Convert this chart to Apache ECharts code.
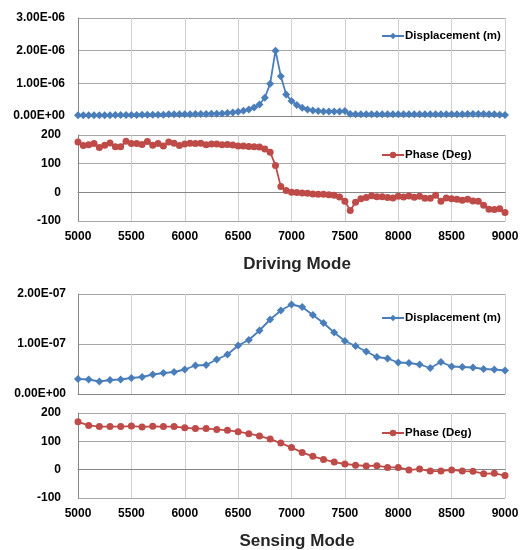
<!DOCTYPE html>
<html>
<head>
<meta charset="utf-8">
<script src="https://cdn.jsdelivr.net/npm/echarts@6/dist/echarts.min.js"></script>
<style>
  html, body { margin: 0; padding: 0; background: #fff; }
  #main { width: 530px; height: 550px; }
</style>
</head>
<body>
<div id="main"></div>
<script>
// driving mode: 5000..9000 Hz, every 50 Hz
var drivingStart = 5000, drivingStep = 50;
var drivingDisp = [ // units of 1e-6 m
  0.02,0.02,0.02,0.02,0.02,0.02,0.02,0.03,0.03,0.03,
  0.03,0.03,0.04,0.04,0.04,0.04,0.04,0.05,0.05,0.05,
  0.05,0.05,0.06,0.06,0.06,0.07,0.07,0.08,0.09,0.11,
  0.13,0.16,0.20,0.26,0.35,0.56,0.99,2.00,1.22,0.66,
  0.46,0.34,0.25,0.20,0.17,0.15,0.14,0.14,0.14,0.14,
  0.15,0.06,0.05,0.05,0.05,0.05,0.05,0.05,0.05,0.05,
  0.05,0.05,0.05,0.05,0.05,0.05,0.05,0.05,0.05,0.05,
  0.05,0.05,0.05,0.06,0.06,0.06,0.06,0.05,0.05,0.04,
  0.03
];
var drivingPhase = [
  176,163,166,170,156,164,172,159,159,178,
  170,170,167,177,164,170,162,176,171,163,
  169,171,170,171,166,169,169,166,167,165,
  162,162,160,159,158,151,140,94,20,6,
  0,-1,-2,-3,-6,-7,-7,-8,-10,-16,
  -31,-63,-35,-22,-18,-12,-15,-15,-18,-20,
  -14,-16,-13,-17,-14,-21,-21,-10,-31,-20,
  -22,-24,-28,-24,-30,-31,-45,-59,-60,-57,
  -70
];

// sensing mode: 5000..9000 Hz, every 100 Hz
var sensingStart = 5000, sensingStep = 100;
var sensingDisp = [ // units of 1e-7 m
  0.30,0.29,0.25,0.28,0.29,0.32,0.34,0.39,0.42,0.44,
  0.49,0.57,0.58,0.69,0.79,0.97,1.08,1.27,1.49,1.67,
  1.79,1.74,1.58,1.42,1.23,1.06,0.96,0.85,0.74,0.71,
  0.63,0.62,0.59,0.52,0.64,0.55,0.54,0.53,0.50,0.49,
  0.47
];
var sensingPhase = [
  169,156,152,152,152,154,151,153,152,152,
  148,145,145,142,139,134,127,119,108,94,
  78,61,47,36,27,20,16,13,14,8,
  8,-1,2,-5,-5,-1,-5,-6,-14,-13,
  -21
];

var xTicks = [5000, 9000, 500];
var dispName = 'Displacement (m)';
var phaseName = 'Phase (Deg)';

function pairs(start, step, vals, scale) {
  var out = [];
  for (var i = 0; i < vals.length; i++) {
    out.push([start + i * step, vals[i] * scale]);
  }
  return out;
}

function sci(v) {
  if (v === 0) return '0.00E+00';
  var s = v.toExponential(2).toUpperCase();
  var p = s.split('E');
  var e = parseInt(p[1], 10);
  var sign = e < 0 ? '-' : '+';
  e = Math.abs(e);
  return p[0] + 'E' + sign + (e < 10 ? '0' + e : e);
}

var font = 'Liberation Sans';
var labelStyle = { color: '#000', fontWeight: 'bold', fontSize: 12, fontFamily: font };
var blue = '#4a7ebb', red = '#be4b48';

var grids = [
  { left: 78, right: 25, top: 18, height: 98 },
  { left: 78, right: 25, top: 135, height: 86 },
  { left: 78, right: 25, top: 294, height: 100 },
  { left: 78, right: 25, top: 413, height: 85 }
];

var xAxes = [], yAxes = [];
for (var g = 0; g < 4; g++) {
  xAxes.push({
    type: 'value', gridIndex: g, min: xTicks[0], max: xTicks[1], interval: xTicks[2],
    axisLine: { lineStyle: { color: '#868686' } },
    axisTick: { show: false },
    axisLabel: Object.assign({ show: g % 2 === 1, margin: 10, formatter: function (v) { return String(v); } }, labelStyle),
    splitLine: { show: true, lineStyle: { color: '#d0d0d0', width: 1 } }
  });
}
yAxes.push({ type: 'value', gridIndex: 0, min: 0, max: 3e-6, interval: 1e-6,
  axisLabel: Object.assign({ formatter: sci, margin: 13 }, labelStyle) });
yAxes.push({ type: 'value', gridIndex: 1, min: -100, max: 200, interval: 100,
  axisLabel: Object.assign({ margin: 17 }, labelStyle) });
yAxes.push({ type: 'value', gridIndex: 2, min: 0, max: 2e-7, interval: 1e-7,
  axisLabel: Object.assign({ formatter: sci, margin: 12 }, labelStyle) });
yAxes.push({ type: 'value', gridIndex: 3, min: -100, max: 200, interval: 100,
  axisLabel: Object.assign({ margin: 17 }, labelStyle) });
yAxes.forEach(function (a) {
  a.axisLine = { show: true, lineStyle: { color: '#868686' } };
  a.axisTick = { show: false };
  a.splitLine = { show: true, lineStyle: { color: '#a6a6a6', width: 1 } };
});

function legendAt(top, name) {
  return {
    left: 381, top: top, data: [name], itemWidth: 22, itemHeight: 8, padding: 0,
    textStyle: { color: '#000', fontWeight: 'bold', fontSize: 11.5, fontFamily: font, padding: [0, 0, 0, -4] }
  };
}

var chart = echarts.init(document.getElementById('main'));
chart.setOption({
  backgroundColor: '#fff',
  animation: false,
  grid: grids,
  xAxis: xAxes,
  yAxis: yAxes,
  legend: [legendAt(30, dispName), legendAt(149, phaseName), legendAt(312, dispName), legendAt(427, phaseName)],
  title: [
    { text: 'Driving Mode', left: 292, top: 251, textAlign: 'center',
      textStyle: { color: '#262626', fontWeight: 'bold', fontSize: 17, fontFamily: font } },
    { text: 'Sensing Mode', left: 292, top: 528, textAlign: 'center',
      textStyle: { color: '#262626', fontWeight: 'bold', fontSize: 17, fontFamily: font } }
  ],
  series: [
    { name: dispName, type: 'line', xAxisIndex: 0, yAxisIndex: 0,
      data: pairs(drivingStart, drivingStep, drivingDisp, 1e-6),
      symbol: 'diamond', symbolSize: 8, color: blue, lineStyle: { width: 1.8 } },
    { name: phaseName, type: 'line', xAxisIndex: 1, yAxisIndex: 1,
      data: pairs(drivingStart, drivingStep, drivingPhase, 1),
      symbol: 'circle', symbolSize: 7, color: red, lineStyle: { width: 1.8 } },
    { name: dispName, type: 'line', xAxisIndex: 2, yAxisIndex: 2,
      data: pairs(sensingStart, sensingStep, sensingDisp, 1e-7),
      symbol: 'diamond', symbolSize: 8, color: blue, lineStyle: { width: 1.8 } },
    { name: phaseName, type: 'line', xAxisIndex: 3, yAxisIndex: 3,
      data: pairs(sensingStart, sensingStep, sensingPhase, 1),
      symbol: 'circle', symbolSize: 7, color: red, lineStyle: { width: 1.8 } }
  ]
});
</script>
</body>
</html>
